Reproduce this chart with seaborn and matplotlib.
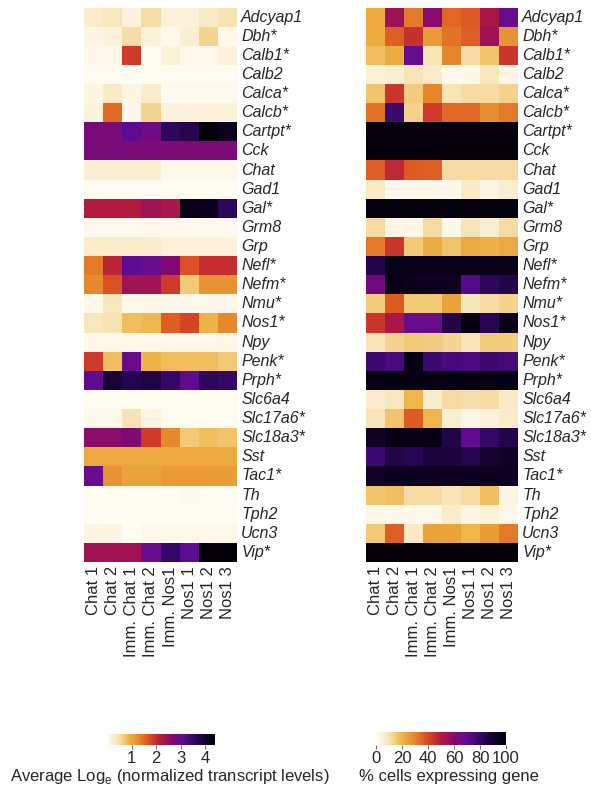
import numpy as np
import pandas as pd
import matplotlib
matplotlib.use("Agg")
import matplotlib.pyplot as plt
from matplotlib.colors import LinearSegmentedColormap
import seaborn as sns

genes = ["Adcyap1", "Dbh*", "Calb1*", "Calb2", "Calca*", "Calcb*", "Cartpt*", "Cck",
         "Chat", "Gad1", "Gal*", "Grm8", "Grp", "Nefl*", "Nefm*", "Nmu*", "Nos1*",
         "Npy", "Penk*", "Prph*", "Slc6a4", "Slc17a6*", "Slc18a3*", "Sst", "Tac1*",
         "Th", "Tph2", "Ucn3", "Vip*"]

clusters = ["Chat 1", "Chat 2", "Imm. Chat 1", "Imm. Chat 2", "Imm. Nos1",
            "Nos1 1", "Nos1 2", "Nos1 3"]

# Average log_e normalized transcript levels, one row per gene
log_expr = [
    [0.30, 0.40, 0.20, 0.50, 0.20, 0.20, 0.35, 0.45],  # Adcyap1
    [0.15, 0.20, 0.50, 0.20, 0.10, 0.25, 0.60, 0.10],  # Dbh
    [0.10, 0.10, 1.90, 0.05, 0.20, 0.10, 0.10, 0.20],  # Calb1
    [0.05, 0.05, 0.05, 0.05, 0.05, 0.05, 0.05, 0.05],  # Calb2
    [0.15, 0.35, 0.15, 0.30, 0.08, 0.08, 0.08, 0.08],  # Calca
    [0.20, 1.50, 0.10, 0.60, 0.20, 0.20, 0.20, 0.20],  # Calcb
    [2.80, 2.80, 3.10, 2.90, 3.60, 3.70, 4.30, 4.10],  # Cartpt
    [2.80, 2.80, 2.75, 2.75, 2.75, 2.75, 2.75, 2.75],  # Cck
    [0.25, 0.25, 0.25, 0.25, 0.10, 0.10, 0.10, 0.10],  # Chat
    [0.05, 0.05, 0.05, 0.05, 0.05, 0.05, 0.05, 0.05],  # Gad1
    [2.20, 2.20, 2.20, 2.40, 2.30, 4.20, 4.10, 3.60],  # Gal
    [0.08, 0.08, 0.08, 0.10, 0.10, 0.08, 0.08, 0.08],  # Grm8
    [0.30, 0.30, 0.30, 0.30, 0.20, 0.20, 0.20, 0.20],  # Grp
    [1.40, 2.10, 3.10, 3.00, 2.70, 1.70, 2.00, 2.00],  # Nefl
    [1.30, 1.70, 2.40, 2.40, 1.90, 0.70, 1.20, 1.20],  # Nefm
    [0.10, 0.40, 0.10, 0.10, 0.10, 0.10, 0.10, 0.10],  # Nmu
    [0.40, 0.45, 0.80, 0.85, 1.60, 1.80, 0.90, 1.30],  # Nos1
    [0.10, 0.10, 0.10, 0.10, 0.10, 0.10, 0.10, 0.10],  # Npy
    [1.90, 0.80, 3.00, 0.90, 0.80, 0.80, 0.80, 0.70],  # Penk
    [3.10, 3.90, 3.70, 3.80, 3.50, 3.10, 3.60, 3.50],  # Prph
    [0.05, 0.05, 0.05, 0.05, 0.05, 0.05, 0.05, 0.05],  # Slc6a4
    [0.10, 0.10, 0.45, 0.15, 0.05, 0.05, 0.05, 0.05],  # Slc17a6
    [2.60, 2.60, 2.70, 1.90, 1.30, 0.70, 0.80, 0.75],  # Slc18a3
    [1.00, 1.00, 1.00, 1.00, 1.00, 1.00, 1.00, 1.00],  # Sst
    [3.00, 1.20, 1.05, 1.05, 1.15, 1.15, 1.15, 1.10],  # Tac1
    [0.05, 0.05, 0.05, 0.05, 0.05, 0.10, 0.05, 0.05],  # Th
    [0.03, 0.03, 0.03, 0.03, 0.03, 0.03, 0.03, 0.03],  # Tph2
    [0.15, 0.15, 0.03, 0.10, 0.10, 0.10, 0.10, 0.10],  # Ucn3
    [2.40, 2.40, 2.40, 3.00, 3.50, 3.10, 4.30, 4.30],  # Vip
]

# Percentage of cells in each cluster expressing the gene
pct_cells = [
    [22, 55, 32, 60, 35, 37, 52, 68],  # Adcyap1
    [22, 36, 45, 26, 33, 36, 55, 27],  # Dbh
    [18, 22, 68, 10, 30, 12, 17, 44],  # Calb1
    [5, 6, 10, 7, 2, 2, 9, 3],         # Calb2
    [17, 44, 15, 30, 10, 12, 12, 14],  # Calca
    [33, 78, 14, 43, 35, 35, 28, 32],  # Calcb
    [97, 97, 97, 97, 97, 97, 97, 97],  # Cartpt
    [98, 98, 98, 98, 98, 98, 98, 98],  # Cck
    [36, 47, 37, 36, 12, 12, 12, 12],  # Chat
    [8, 2, 2, 2, 2, 8, 3, 6],          # Gad1
    [97, 97, 97, 97, 97, 97, 97, 97],  # Gal
    [12, 3, 3, 12, 2, 10, 6, 12],      # Grm8
    [32, 44, 16, 22, 17, 23, 21, 23],  # Grp
    [85, 95, 95, 95, 95, 95, 95, 95],  # Nefl
    [65, 95, 93, 93, 93, 72, 82, 85],  # Nefm
    [15, 37, 16, 16, 24, 10, 12, 14],  # Nmu
    [44, 52, 68, 68, 85, 97, 83, 95],  # Nos1
    [10, 14, 16, 15, 13, 10, 15, 15],  # Npy
    [78, 75, 96, 78, 76, 74, 78, 76],  # Penk
    [96, 96, 96, 96, 96, 96, 96, 96],  # Prph
    [7, 9, 20, 7, 12, 11, 12, 8],      # Slc6a4
    [10, 17, 37, 20, 6, 3, 5, 7],      # Slc17a6
    [92, 96, 96, 96, 85, 70, 80, 85],  # Slc18a3
    [77, 85, 83, 88, 87, 84, 90, 92],  # Sst
    [92, 93, 93, 93, 93, 93, 93, 93],  # Tac1
    [17, 18, 12, 12, 10, 12, 18, 3],   # Th
    [2, 2, 2, 2, 7, 3, 5, 2],          # Tph2
    [16, 36, 8, 24, 24, 20, 25, 32],   # Ucn3
    [98, 98, 98, 98, 98, 98, 98, 98],  # Vip
]

expr_df = pd.DataFrame(log_expr, index=genes, columns=clusters)
pct_df = pd.DataFrame(pct_cells, index=genes, columns=clusters)

# cream -> yellow -> orange -> red -> magenta -> violet -> black
heat_cmap = LinearSegmentedColormap.from_list(
    "cream_inferno",
    [(0.00, "#fffdf6"), (0.10, "#f7e3b6"), (0.20, "#eeb548"), (0.30, "#e5852a"),
     (0.40, "#da4722"), (0.50, "#b31a3c"), (0.60, "#860a6c"), (0.70, "#600c92"),
     (0.80, "#330866"), (0.90, "#140230"), (1.00, "#000000")])

sns.set_theme(style="white")
plt.rcParams["font.family"] = ["Liberation Sans", "DejaVu Sans"]

fig = plt.figure(figsize=(5.91, 7.88), dpi=100)
W, H = 591, 788

def box(x0, y0, x1, y1):
    return [x0 / W, 1 - y1 / H, (x1 - x0) / W, (y1 - y0) / H]

ax_l = fig.add_axes(box(84, 7.5, 237, 562))
ax_r = fig.add_axes(box(366, 7.5, 518, 562))

sns.heatmap(expr_df, ax=ax_l, cmap=heat_cmap, vmin=0, vmax=4.4, cbar=False)
sns.heatmap(pct_df, ax=ax_r, cmap=heat_cmap, vmin=0, vmax=100, cbar=False)

for ax in (ax_l, ax_r):
    ax.yaxis.tick_right()
    ax.set_yticks(np.arange(len(genes)) + 0.5)
    ax.set_yticklabels(genes, rotation=0, fontsize=11.5, fontstyle="italic",
                       ha="left", va="center")
    ax.set_xticks(np.arange(len(clusters)) + 0.5)
    ax.set_xticklabels(clusters, rotation=90, fontsize=12, ha="center", va="top")
    ax.tick_params(axis="both", length=0, pad=3)
    ax.set_xlabel("")
    ax.set_ylabel("")

cax_l = fig.add_axes(box(107, 734, 215, 745))
cax_r = fig.add_axes(box(376, 732, 506, 745))

cb_l = fig.colorbar(ax_l.collections[0], cax=cax_l, orientation="horizontal")
cb_l.set_ticks([1, 2, 3, 4])
cb_r = fig.colorbar(ax_r.collections[0], cax=cax_r, orientation="horizontal")
cb_r.set_ticks([0, 20, 40, 60, 80, 100])

for cb in (cb_l, cb_r):
    cb.outline.set_visible(False)
    cb.ax.tick_params(axis="x", length=3, width=0.6, pad=1.5, labelsize=12,
                      bottom=True, color="#555555")
    for s in cb.ax.spines.values():
        s.set_visible(False)

fig.text(170 / W, 1 - 777 / H, "Average Log$_\\mathregular{e}$ (normalized transcript levels)",
         ha="center", va="center", fontsize=12)
fig.text(449 / W, 1 - 777 / H, "% cells expressing gene",
         ha="center", va="center", fontsize=12)

fig.savefig("out.png", dpi=100)
